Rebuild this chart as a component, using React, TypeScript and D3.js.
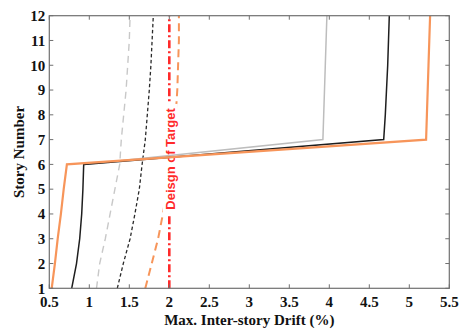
import React from "react";
import * as d3 from "d3";

// Story levels and drift profiles (%)
const stories = [1, 2, 3, 4, 5, 6, 7, 8, 9, 10, 11, 12];
const orangeSolid = [0.53, 0.57, 0.605, 0.645, 0.68, 0.72, 5.21, 5.22, 5.23, 5.24, 5.25, 5.26];
const blackSolid = [0.78, 0.84, 0.88, 0.905, 0.92, 0.93, 4.68, 4.7, 4.715, 4.73, 4.74, 4.75];
const graySolidStories = [6, 7, 8, 9, 10, 11, 12];
const graySolid = [0.93, 3.92, 3.93, 3.94, 3.95, 3.96, 3.97];
const grayDashed = [1.09, 1.13, 1.2, 1.26, 1.32, 1.38, 1.4, 1.43, 1.46, 1.48, 1.5, 1.51];
const blackDashed = [1.35, 1.425, 1.51, 1.57, 1.625, 1.66, 1.7, 1.725, 1.75, 1.77, 1.785, 1.8];
const orangeDashed = [1.7, 1.78, 1.86, 1.92, 1.97, 2.01, 2.05, 2.08, 2.1, 2.11, 2.12, 2.12];
const targetDrift = 2.0;
const targetLabel = "Deisgn of Target";

const xTicks = [0.5, 1, 1.5, 2, 2.5, 3, 3.5, 4, 4.5, 5, 5.5];
const yTicks = [1, 2, 3, 4, 5, 6, 7, 8, 9, 10, 11, 12];

const W = 459;
const H = 331;
const m = { left: 49.3, right: 9.7, top: 15.7, bottom: 42.7 };

export default function App() {
  const x = d3.scaleLinear().domain([0.5, 5.5]).range([m.left, W - m.right]);
  const y = d3.scaleLinear().domain([1, 12]).range([H - m.bottom, m.top]);

  const line = (xs: number[], ys: number[]) =>
    d3.line<number>().x((d) => x(d)).y((_, i) => y(ys[i]))(xs) as string;

  const x0 = x.range()[0];
  const x1 = x.range()[1];
  const y0 = y.range()[0];
  const y1 = y.range()[1];
  const axisColor = "#707070";
  const serif = "'Liberation Serif', 'Times New Roman', serif";

  const labelX = x(targetDrift) + 1.5;
  const labelY = y(6.22);

  return (
    <svg
      width={W}
      height={H}
      style={{ position: "absolute", left: 0, top: 0, background: "#fff" }}
    >
      {/* target drift line */}
      <line
        x1={x(targetDrift)}
        x2={x(targetDrift)}
        y1={y(1)}
        y2={y(12)}
        stroke="#ff2a2a"
        strokeWidth={2.6}
        strokeDasharray="8,3,2,3"
      />
      {/* dashed profiles */}
      <path d={line(grayDashed, stories)} fill="none" stroke="#c8c8c8" strokeWidth={1.4} strokeDasharray="7,5" />
      <path d={line(blackDashed, stories)} fill="none" stroke="#2a2a2a" strokeWidth={1.3} strokeDasharray="3.5,2.5" />
      <path d={line(orangeDashed, stories)} fill="none" stroke="#f7955a" strokeWidth={2} strokeDasharray="8,5" />

      {/* target label with white backing */}
      <g transform={`translate(${labelX},${labelY}) rotate(-90)`}>
        <rect x={-55} y={-8} width={110} height={15} fill="#fff" />
        <text
          x={0}
          y={0}
          dy="0.35em"
          textAnchor="middle"
          fill="#ff2a2a"
          fontFamily="'Liberation Sans', Arial, sans-serif"
          fontWeight="bold"
          fontSize={13}
        >
          {targetLabel}
        </text>
      </g>

      {/* solid profiles */}
      <path d={line(graySolid, graySolidStories)} fill="none" stroke="#bdbdbd" strokeWidth={1.5} />
      <path d={line(blackSolid, stories)} fill="none" stroke="#1e1e1e" strokeWidth={1.5} />
      <path d={line(orangeSolid, stories)} fill="none" stroke="#f7955a" strokeWidth={2.2} />

      {/* frame */}
      <rect x={x0} y={y1} width={x1 - x0} height={y0 - y1} fill="none" stroke={axisColor} strokeWidth={1.2} />
      {xTicks.map((t) => (
        <g key={`xt${t}`}>
          <line x1={x(t)} x2={x(t)} y1={y0} y2={y0 - 4} stroke={axisColor} />
          <line x1={x(t)} x2={x(t)} y1={y1} y2={y1 + 4} stroke={axisColor} />
          <text
            x={x(t)}
            y={y0 + 19}
            textAnchor="middle"
            fontFamily={serif}
            fontWeight="bold"
            fontSize={15}
            fill="#111"
          >
            {t}
          </text>
        </g>
      ))}
      {yTicks.map((t) => (
        <g key={`yt${t}`}>
          <line x1={x0} x2={x0 + 4} y1={y(t)} y2={y(t)} stroke={axisColor} />
          <line x1={x1} x2={x1 - 4} y1={y(t)} y2={y(t)} stroke={axisColor} />
          <text
            x={x0 - 4}
            y={y(t)}
            dy="0.35em"
            textAnchor="end"
            fontFamily={serif}
            fontWeight="bold"
            fontSize={15}
            fill="#111"
          >
            {t}
          </text>
        </g>
      ))}

      {/* axis titles */}
      <text
        x={(x0 + x1) / 2}
        y={H - 6}
        textAnchor="middle"
        fontFamily={serif}
        fontWeight="bold"
        fontSize={15}
        fill="#111"
      >
        Max. Inter-story Drift (%)
      </text>
      <text
        transform={`translate(19,${(y0 + y1) / 2}) rotate(-90)`}
        dy="0.35em"
        textAnchor="middle"
        fontFamily={serif}
        fontWeight="bold"
        fontSize={15}
        fill="#111"
      >
        Story Number
      </text>
    </svg>
  );
}
